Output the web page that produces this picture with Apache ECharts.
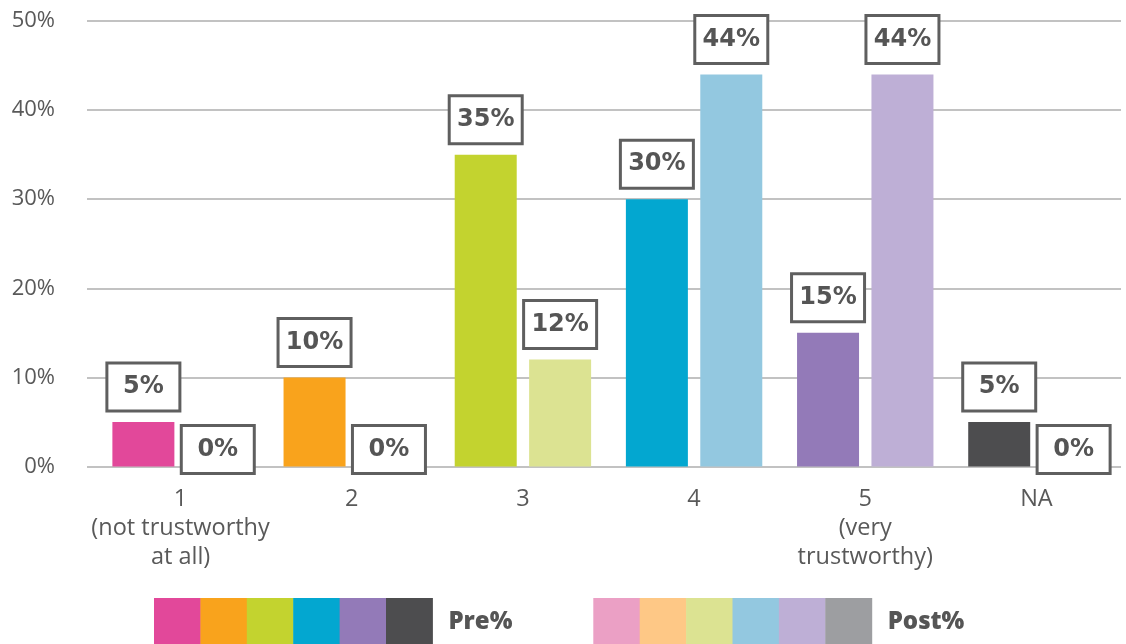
<!DOCTYPE html>
<html>
<head>
<meta charset="utf-8">
<script src="https://cdn.jsdelivr.net/npm/echarts@6/dist/echarts.min.js"></script>
<style>
  html, body { margin: 0; padding: 0; background: #fff; }
  #chart { width: 1126px; height: 644px; }
</style>
</head>
<body>
<div id="chart"></div>
<script>
// Trust ratings, share of respondents before and after
const categories = ['1\n(not trustworthy\nat all)', '2', '3', '4', '5\n(very\ntrustworthy)', 'NA'];
const preValues = [5, 10, 35, 30, 15, 5];
const postValues = [0, 0, 12, 44, 44, 0];
const yTickValues = [0, 10, 20, 30, 40, 50];
const seriesNames = ['Pre%', 'Post%'];

// Per-category colours for each series
const preColors = ['#E2489A', '#F9A31C', '#C3D32F', '#03A7D0', '#937AB8', '#4D4D4F'];
const postColors = ['#EBA0C5', '#FEC886', '#DCE392', '#93C8E0', '#BEAFD6', '#9D9EA1'];

const textGrey = '#595959';
const yMin = yTickValues[0];
const yMax = yTickValues[yTickValues.length - 1];
const yStep = yTickValues[1] - yTickValues[0];

// Boxed value label; zero values sit lower, straddling the baseline
function barData(values) {
  return values.map(v => v === 0 ? { value: v, label: { offset: [0, 18] } } : { value: v });
}

const boxLabel = {
  show: true,
  position: 'top',
  distance: 12.5,
  formatter: '{c}%',
  fontFamily: 'DejaVu Sans',
  fontWeight: 'bold',
  fontSize: 24,
  color: '#555555',
  backgroundColor: '#ffffff',
  borderColor: '#5f5f5f',
  borderWidth: 3,
  width: 70,
  height: 45,
  lineHeight: 45,
  padding: 0,
  align: 'center'
};

// Colour-strip legend keys
function legendStrip(colors, x0, label) {
  const sw = 46.4, sh = 47, top = 598;
  const items = colors.map((c, i) => ({
    type: 'rect',
    shape: { x: x0 + i * sw, y: top, width: sw + 0.5, height: sh },
    style: { fill: c }
  }));
  items.push({
    type: 'text',
    x: x0 + colors.length * sw + 16,
    y: 622.5,
    style: {
      text: label,
      font: '800 24px "Open Sans"',
      fill: '#555555',
      verticalAlign: 'middle'
    }
  });
  return items;
}

const chart = echarts.init(document.getElementById('chart'), null, { renderer: 'canvas' });

chart.setOption({
  animation: false,
  backgroundColor: '#ffffff',
  grid: [
    { left: 95, right: 4, top: 21, bottom: 177.5 },
    { left: 87, right: 5, top: 21, bottom: 177.5 }
  ],
  xAxis: [
    {
      type: 'category',
      gridIndex: 0,
      data: categories,
      axisLine: { show: false },
      axisTick: { show: false },
      axisLabel: {
        color: textGrey,
        fontFamily: 'Open Sans',
        fontSize: 23.5,
        lineHeight: 29,
        margin: 18,
        interval: 0
      }
    },
    { type: 'value', gridIndex: 1, show: false }
  ],
  yAxis: [
    {
      type: 'value',
      gridIndex: 0,
      min: yMin, max: yMax, interval: yStep,
      show: false,
      splitLine: { show: false }
    },
    {
      type: 'value',
      gridIndex: 1,
      min: yMin, max: yMax, interval: yStep,
      axisLine: { show: false },
      axisTick: { show: false },
      axisLabel: {
        formatter: '{value}%',
        color: textGrey,
        fontFamily: 'Open Sans',
        fontSize: 22,
        margin: 32
      },
      splitLine: { show: true, lineStyle: { color: '#c2c2c2', width: 2 } }
    }
  ],
  series: [
    {
      name: seriesNames[0],
      type: 'bar',
      xAxisIndex: 0, yAxisIndex: 0,
      data: barData(preValues),
      barWidth: 62,
      barGap: '20%',
      itemStyle: { color: p => preColors[p.dataIndex] },
      label: boxLabel
    },
    {
      name: seriesNames[1],
      type: 'bar',
      xAxisIndex: 0, yAxisIndex: 0,
      data: barData(postValues),
      barWidth: 62,
      barGap: '20%',
      itemStyle: { color: p => postColors[p.dataIndex] },
      label: boxLabel
    }
  ],
  graphic: [
    ...legendStrip(preColors, 154, seriesNames[0]),
    ...legendStrip(postColors, 593.3, seriesNames[1])
  ]
});
</script>
</body>
</html>
